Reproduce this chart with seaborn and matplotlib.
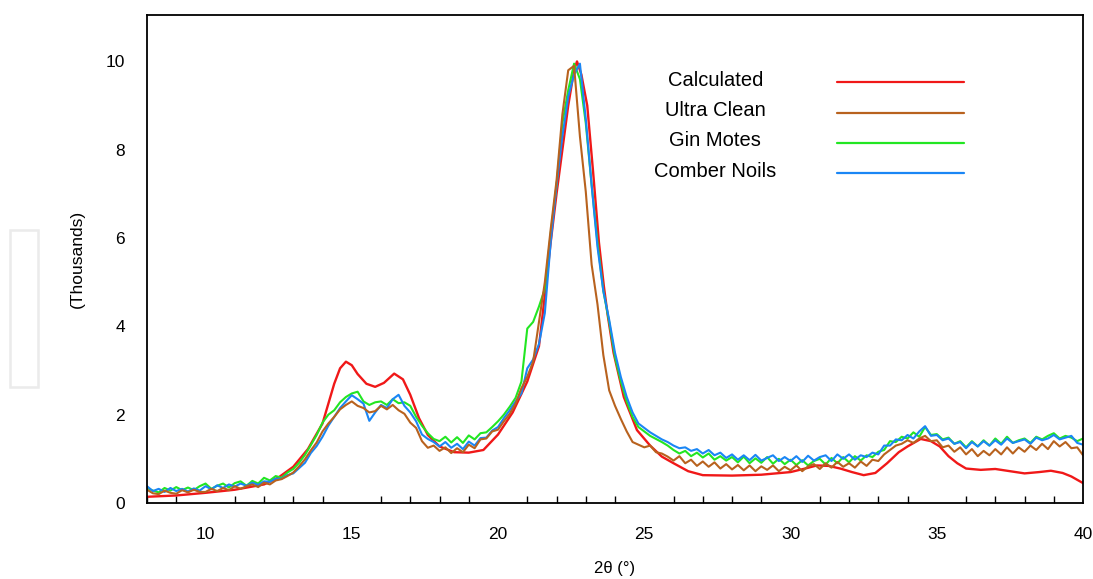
import numpy as np
import pandas as pd
import matplotlib
matplotlib.use("Agg")
import matplotlib.pyplot as plt
from matplotlib.lines import Line2D
from matplotlib.patches import Rectangle
import seaborn as sns

# Calculated pattern (smooth)
calc_2theta = [8.0, 9.0, 10.0, 11.0, 12.0, 12.5, 13.0, 13.5, 14.0, 14.2,
               14.4, 14.6, 14.8, 15.0, 15.2, 15.5, 15.8, 16.1, 16.45, 16.75,
               17.0, 17.3, 17.6, 18.0, 18.5, 19.0, 19.5, 20.0, 20.5, 21.0,
               21.4, 21.6, 21.8, 22.0, 22.2, 22.4, 22.6, 22.7, 22.85, 23.05,
               23.25, 23.45, 23.62, 23.75, 23.95, 24.3, 24.75, 25.2, 25.6, 26.0,
               26.5, 27.0, 28.0, 29.0, 30.0, 30.5, 30.9, 31.3, 31.7, 32.1,
               32.5, 32.9, 33.3, 33.7, 34.0, 34.45, 34.8, 35.1, 35.4, 35.7,
               36.0, 36.5, 37.0, 37.5, 38.0, 38.5, 38.9, 39.3, 39.6, 40.0]
calculated = [0.14, 0.17, 0.23, 0.30, 0.42, 0.58, 0.82, 1.22, 1.80, 2.25,
              2.70, 3.05, 3.20, 3.12, 2.92, 2.70, 2.63, 2.72, 2.93, 2.80,
              2.45, 1.92, 1.54, 1.28, 1.15, 1.14, 1.20, 1.55, 2.05, 2.75,
              3.55, 4.70, 5.90, 7.00, 8.00, 9.00, 9.80, 10.0, 9.70, 9.00,
              7.50, 5.90, 4.90, 4.25, 3.40, 2.40, 1.65, 1.30, 1.05, 0.90,
              0.72, 0.63, 0.62, 0.64, 0.70, 0.78, 0.85, 0.84, 0.78, 0.70,
              0.63, 0.68, 0.90, 1.15, 1.28, 1.45, 1.40, 1.28, 1.06, 0.90,
              0.78, 0.75, 0.77, 0.72, 0.67, 0.70, 0.73, 0.68, 0.60, 0.45]

# measured patterns, sampled every 0.2 deg from 8 to 40
measured_2theta = np.round(np.arange(8.0, 40.0001, 0.2), 1)

ultra_clean = [
    0.30, 0.22, 0.20, 0.28, 0.23, 0.21, 0.29, 0.24, 0.30, 0.25,
    0.25, 0.32, 0.27, 0.34, 0.29, 0.38, 0.32, 0.38, 0.42, 0.36,
    0.46, 0.42, 0.51, 0.54, 0.61, 0.69, 0.83, 0.99, 1.19, 1.37,
    1.62, 1.80, 1.95, 2.12, 2.22, 2.30, 2.20, 2.15, 2.05, 2.08,
    2.20, 2.12, 2.22, 2.10, 2.02, 1.82, 1.70, 1.40, 1.25, 1.30,
    1.18, 1.26, 1.13, 1.24, 1.15, 1.32, 1.24, 1.44, 1.46, 1.62,
    1.66, 1.85, 2.02, 2.25, 2.60, 2.86, 3.20, 4.10, 5.00, 6.20,
    7.30, 8.80, 9.80, 9.90, 8.30, 7.05, 5.40, 4.50, 3.35, 2.55,
    2.20, 1.90, 1.62, 1.38, 1.32, 1.26, 1.30, 1.15, 1.12, 1.05,
    0.96, 1.06, 0.90, 0.98, 0.84, 0.94, 0.82, 0.92, 0.78, 0.88,
    0.76, 0.86, 0.74, 0.85, 0.72, 0.83, 0.75, 0.85, 0.72, 0.82,
    0.74, 0.85, 0.72, 0.83, 0.88, 0.77, 0.90, 0.80, 0.93, 0.82,
    0.90, 0.80, 0.94, 0.84, 0.98, 0.95, 1.10, 1.20, 1.30, 1.34,
    1.42, 1.36, 1.46, 1.52, 1.40, 1.42, 1.26, 1.30, 1.16, 1.26,
    1.10, 1.22, 1.06, 1.18, 1.08, 1.22, 1.10, 1.26, 1.12, 1.26,
    1.16, 1.30, 1.20, 1.34, 1.22, 1.40, 1.28, 1.38, 1.24, 1.26,
    1.08,
]

gin_motes = [
    0.34, 0.28, 0.24, 0.34, 0.28, 0.36, 0.29, 0.35, 0.29, 0.38,
    0.44, 0.32, 0.39, 0.44, 0.35, 0.45, 0.49, 0.39, 0.50, 0.44,
    0.57, 0.51, 0.61, 0.57, 0.69, 0.77, 0.91, 1.09, 1.31, 1.54,
    1.82, 2.00, 2.10, 2.28, 2.40, 2.48, 2.52, 2.30, 2.22, 2.28,
    2.30, 2.22, 2.35, 2.26, 2.28, 2.20, 1.95, 1.75, 1.58, 1.45,
    1.40, 1.50, 1.37, 1.49, 1.36, 1.53, 1.44, 1.58, 1.60, 1.72,
    1.85, 2.00, 2.18, 2.38, 2.75, 3.95, 4.10, 4.45, 4.85, 6.10,
    7.20, 8.60, 9.35, 9.95, 9.60, 8.60, 7.20, 5.90, 4.80, 4.10,
    3.30, 2.75, 2.30, 1.95, 1.72, 1.62, 1.52, 1.45, 1.38, 1.30,
    1.20, 1.12, 1.18, 1.06, 1.14, 1.03, 1.12, 0.98, 1.06, 0.96,
    1.04, 0.92, 1.05, 0.90, 1.01, 0.91, 1.04, 0.89, 1.00, 0.88,
    0.98, 0.86, 0.97, 0.85, 0.95, 1.00, 0.87, 1.02, 0.90, 1.04,
    0.92, 1.06, 0.96, 1.08, 1.04, 1.16, 1.20, 1.40, 1.38, 1.50,
    1.46, 1.60, 1.50, 1.72, 1.54, 1.56, 1.44, 1.48, 1.34, 1.40,
    1.26, 1.40, 1.28, 1.42, 1.30, 1.46, 1.34, 1.50, 1.36, 1.42,
    1.46, 1.36, 1.50, 1.44, 1.52, 1.58, 1.46, 1.52, 1.48, 1.40,
    1.46,
]

comber_noils = [
    0.38, 0.27, 0.32, 0.25, 0.34, 0.27, 0.32, 0.26, 0.33, 0.28,
    0.38, 0.31, 0.40, 0.34, 0.42, 0.37, 0.44, 0.39, 0.46, 0.41,
    0.49, 0.48, 0.55, 0.55, 0.63, 0.67, 0.79, 0.91, 1.13, 1.29,
    1.50, 1.75, 1.95, 2.15, 2.30, 2.44, 2.35, 2.25, 1.86, 2.05,
    2.22, 2.15, 2.35, 2.45, 2.20, 2.05, 1.85, 1.55, 1.45, 1.38,
    1.28, 1.38, 1.25, 1.34, 1.22, 1.39, 1.30, 1.47, 1.48, 1.64,
    1.72, 1.92, 2.10, 2.30, 2.48, 3.05, 3.25, 3.60, 4.30, 5.90,
    7.20, 8.30, 9.20, 9.70, 9.95, 8.70, 7.20, 5.80, 4.80, 4.15,
    3.40, 2.85, 2.40, 2.05, 1.80, 1.70, 1.60, 1.52, 1.44, 1.38,
    1.30, 1.24, 1.26, 1.18, 1.22, 1.12, 1.20, 1.08, 1.14, 1.02,
    1.10, 0.98, 1.08, 0.97, 1.09, 0.96, 1.02, 1.08, 0.95, 1.04,
    0.95, 1.06, 0.93, 1.07, 0.96, 1.04, 1.08, 0.95, 1.10, 1.00,
    1.10, 0.98, 1.08, 1.04, 1.14, 1.10, 1.30, 1.30, 1.44, 1.42,
    1.54, 1.46, 1.62, 1.74, 1.52, 1.54, 1.42, 1.46, 1.34, 1.38,
    1.24, 1.38, 1.28, 1.40, 1.30, 1.42, 1.32, 1.46, 1.36, 1.40,
    1.44, 1.34, 1.48, 1.42, 1.46, 1.54, 1.44, 1.48, 1.52, 1.36,
    1.32,
]

series_names = ["Calculated", "Ultra Clean", "Gin Motes", "Comber Noils"]
series_colors = ["#f01818", "#b8621e", "#22e622", "#1a86f5"]

x_ticks = [10, 15, 20, 25, 30, 35, 40]
y_ticks = [0, 2, 4, 6, 8, 10]

sns.set_style("white")
plt.rcParams["font.family"] = ["Liberation Sans", "DejaVu Sans"]
plt.rcParams["text.color"] = "black"
plt.rcParams["axes.labelcolor"] = "black"
plt.rcParams["xtick.color"] = "black"
plt.rcParams["ytick.color"] = "black"

fig = plt.figure(figsize=(10.93, 5.79), dpi=100)
ax = fig.add_axes([0.1345, 0.1313, 0.8564, 0.8427])

measured = pd.DataFrame({
    "two_theta": measured_2theta,
    "Ultra Clean": ultra_clean,
    "Gin Motes": gin_motes,
    "Comber Noils": comber_noils,
})

sns.lineplot(x=calc_2theta, y=calculated, color=series_colors[0], lw=1.7, ax=ax)
for name, col in [("Gin Motes", series_colors[2]),
                  ("Comber Noils", series_colors[3]),
                  ("Ultra Clean", series_colors[1])]:
    sns.lineplot(data=measured, x="two_theta", y=name, color=col, lw=1.5, ax=ax)

ax.set_xlim(8, 40)
ax.set_ylim(0, 11.05)
ax.set_xticks(x_ticks)
ax.set_xticks(range(8, 41), minor=True)
ax.set_yticks(y_ticks)
ax.tick_params(axis="x", which="major", direction="in", length=8, width=1.1,
               pad=17, labelsize=12.5)
ax.tick_params(axis="x", which="minor", direction="in", length=5, width=1.0,
               bottom=True)
ax.tick_params(axis="y", direction="in", length=10, width=1.1, pad=16,
               labelsize=12.5)
for s in ax.spines.values():
    s.set_linewidth(1.3)
    s.set_color("black")

ax.set_xlabel("2θ (°)", fontsize=12, labelpad=14)
ax.set_ylabel("(Thousands)", fontsize=12.5, labelpad=15)

# legend: label text on the left, line sample on the right
for i, (name, col) in enumerate(zip(series_names, series_colors)):
    yy = 0.866 - i * 0.062
    ax.text(0.607, yy, name, transform=ax.transAxes, ha="center",
            va="center", fontsize=14.5)
    ax.add_line(Line2D([0.737, 0.873], [yy - 0.004, yy - 0.004],
                       transform=ax.transAxes, color=col, lw=1.6))

# faint empty box at the far left of the original image
fig.add_artist(Rectangle((10 / 1093, 1 - 387 / 579), 28 / 1093, 157 / 579,
                         transform=fig.transFigure, fill=False,
                         ec="#ebebeb", lw=1.8))

fig.savefig("out.png", dpi=100)
